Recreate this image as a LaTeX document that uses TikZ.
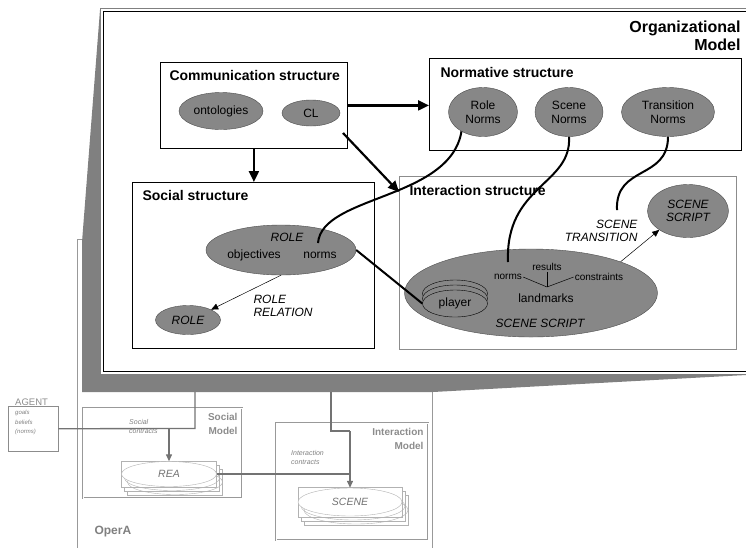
\documentclass[tikz,border=0pt]{standalone}
\usepackage{fontspec}
\setmainfont{Liberation Sans}
\usetikzlibrary{shapes.geometric,arrows.meta,shadows}

\begin{document}
\begin{tikzpicture}[x=1pt, y=-1pt,
  every node/.style={font=\fontsize{12}{14}\selectfont},
  heading/.style={font=\bfseries\fontsize{14}{16}\selectfont, anchor=west},
  structbox/.style={draw, line width=0.8pt, anchor=north west, inner sep=0pt},
  blob/.style={ellipse, draw=black!70, fill=black!47, inner sep=0pt, align=center},
  smalltext/.style={font=\fontsize{10}{12}\selectfont, inner sep=1pt},
  labeltext/.style={font=\itshape\fontsize{12}{13.5}\selectfont, align=center},
  bigarrow/.style={line width=2.2pt, -{Triangle[length=11pt,width=10pt]}},
  bigline/.style={line width=2pt},
  thinarrow/.style={line width=0.5pt, -{Triangle[length=7pt,width=6pt]}},
  opbox/.style={draw=black!40, double=white, double distance=1pt, line width=0.6pt, anchor=north west, inner sep=0pt},
  modeltitle/.style={font=\bfseries\fontsize{10}{13.5}\selectfont, text=black!45, align=right, anchor=north east},
  tinytext/.style={font=\itshape\fontsize{7}{9}\selectfont, text=black!50, inner sep=1pt},
  link/.style={draw=black!55, line width=1.3pt},
  linkarrow/.style={link, -{Triangle[length=7pt,width=6pt]}},
  paper/.style={rectangle, draw=black!30, fill=white, inner sep=0pt,
    double copy shadow={shadow xshift=3pt, shadow yshift=-4pt, draw=black!30, fill=white}},
  sheet/.style={ellipse, draw=black!30, fill=white, inner sep=0pt, text=black!55,
    font=\itshape\fontsize{10.5}{12}\selectfont,
    double copy shadow={shadow xshift=3pt, shadow yshift=-4pt, draw=black!30, fill=none}}]
  \clip (0,0) rectangle (746,547);

  % OperA frame and zoom band
  \draw[opbox] (78,240) rectangle (433,560);
  \fill[black!50] (100,10) -- (82,242) -- (82,392) -- (433,392) -- (746,375) -- (746,10) -- cycle;
  \filldraw[fill=white, draw=black!50, line width=0.8pt] (100,8) rectangle (760,374);
  \draw[line width=0.8pt] (103.5,11.5) rectangle (760,371);
  \node[anchor=east, align=right, font=\bfseries\fontsize{16}{18}\selectfont] (orgt) at (744,36) {Organizational\\Model};

  % communication structure
  \node[structbox, minimum width=187pt, minimum height=86pt] (comm) at (160,62) {};
  \node[heading] (commt) at (166,75) {Communication structure};
  \node[blob, minimum width=84pt, minimum height=37pt] (onto) at (221,111) {ontologies};
  \node[blob, minimum width=58pt, minimum height=26pt] (cl) at (311,113) {CL};

  % normative structure
  \node[structbox, minimum width=312pt, minimum height=92pt] (norm) at (429,58) {};
  \node[heading] (normt) at (437,72) {Normative structure};
  \node[blob, minimum width=69pt, minimum height=49pt] (rn) at (483,112) {Role\\Norms};
  \node[blob, minimum width=68pt, minimum height=49pt] (sn) at (569,112) {Scene\\Norms};
  \node[blob, minimum width=93pt, minimum height=49pt] (tn) at (668,112) {Transition\\Norms};

  % social structure
  \node[structbox, minimum width=242pt, minimum height=166pt] (social) at (132,182) {};
  \node[heading] (socialt) at (139,195) {Social structure};
  \node[blob, minimum width=150pt, minimum height=50pt] (role) at (281,250) {};
  \node[labeltext] (roletxt) at (287,237) {ROLE};
  \node (objtxt) at (254,255) {objectives};
  \node (rnorms) at (320,255) {norms};
  \node[blob, labeltext, minimum width=65pt, minimum height=29pt] (role2) at (188,320) {ROLE};
  \node[labeltext, align=left, anchor=west] (reltxt) at (250,306) {ROLE\\RELATION};

  % interaction structure
  \node[structbox, draw=black!45, line width=0.5pt, minimum width=337pt, minimum height=173pt] (inter) at (399,176) {};
  \node[heading] (intert) at (406,190) {Interaction structure};
  \node[blob, minimum width=253pt, minimum height=88pt] (script) at (531,293) {};
  \node[blob, draw=black, minimum width=65pt, minimum height=27pt] (pl3) at (455,293.5) {};
  \node[blob, draw=black, minimum width=65pt, minimum height=27pt] (pl2) at (455,298.5) {};
  \node[blob, draw=black, minimum width=65pt, minimum height=27pt] (player) at (455,303.5) {player};
  \node[smalltext] (snorms) at (508,277) {norms};
  \node[smalltext] (results) at (547,267) {results};
  \node[smalltext] (constr) at (599,277) {constraints};
  \node (landm) at (546,298) {landmarks};
  \coordinate (fork) at (547,287);
  \node[labeltext] (scripttxt) at (540,323) {SCENE SCRIPT};
  \node[blob, labeltext, minimum width=81pt, minimum height=53pt] (nextscript) at (688,211) {SCENE\\SCRIPT};
  \node[labeltext, align=right, anchor=east] (transtxt) at (641,231) {SCENE\\TRANSITION};

  % connectors between structures
  \coordinate (clout) at (343,133);
  \coordinate (interin) at (399,192);
  \coordinate (rnout) at (318,243);
  \coordinate (snin) at (508,262);
  \coordinate (stin) at (617,210);
  \draw[bigarrow] (comm.south) -- (comm.south |- social.north);
  \draw[bigarrow] (comm.east) -- (comm.east -| norm.west);
  \draw[bigarrow] (clout) -- (interin);
  \draw[bigline] (rnout) .. controls (322,195) and (450,200) .. (rn.222);
  \draw[bigline] (sn.south) .. controls (572,185) and (505,185) .. (snin);
  \draw[bigline] (tn.south) .. controls (668,180) and (615,165) .. (stin);
  \draw[bigline] (role.east) -- (player.west);
  \draw[thinarrow] (role.south) -- (role2.north east);
  \draw[thinarrow] (script.north east) -- (nextscript.south west);
  \draw[line width=0.5pt] (snorms.east) -- (fork);
  \draw[line width=0.5pt] (constr.west) -- (fork);
  \draw[line width=0.5pt] (results.south) -- (fork);

  % OperA models
  \node[opbox, minimum width=159pt, minimum height=90pt] (socmodel) at (83,408) {};
  \node[modeltitle] (socmodelt) at (241,410) {Social\\Model};
  \node[opbox, minimum width=152pt, minimum height=117pt] (intmodel) at (276,423) {};
  \node[modeltitle] (intmodelt) at (427,425) {Interaction\\Model};
  \node[draw=black!45, minimum width=50pt, minimum height=45pt, anchor=north west, inner sep=0pt] (agent) at (8,406) {};
  \node[anchor=base west, inner sep=0pt, text=black!45, font=\fontsize{9.5}{11}\selectfont] (agentt) at (15,405) {AGENT};
  \node[tinytext, anchor=north west, align=left, font=\itshape\fontsize{6}{9.5}\selectfont] (agentx) at (14,409) {goals\\beliefs\\(norms)};
  \node[paper, minimum width=95pt, minimum height=26pt] (reapaper) at (169,474) {};
  \node[sheet, minimum width=95pt, minimum height=25pt] (rea) at (169,474) {REA};
  \node[paper, minimum width=104pt, minimum height=30pt] (scenepaper) at (350,502) {};
  \node[sheet, minimum width=104pt, minimum height=28pt] (scene) at (350,502) {SCENE};
  \node[tinytext, align=left, anchor=west] (soccon) at (128,426.5) {Social\\contracts};
  \node[tinytext, align=left, anchor=west] (intcon) at (290,457.5) {Interaction\\contracts};
  \node[anchor=west, font=\bfseries\fontsize{12}{14}\selectfont, text=black!50] (opera) at (91,532) {OperA};

  \coordinate (bandl) at (195,392);
  \coordinate (agentj) at (195,428.5);
  \coordinate (reain) at (169,428.5);
  \coordinate (bandr) at (331,392);
  \coordinate (scenej) at (350,431);
  \draw[link] (agent.east) -- (agentj) -- (bandl);
  \draw[linkarrow] (reain) -- (rea.north);
  \draw[link] (bandr) |- (scenej);
  \draw[linkarrow] (scenej) -- (scene.north);
  \draw[link] (rea.east) -- (rea.east -| scene.north);
\end{tikzpicture}
\end{document}
